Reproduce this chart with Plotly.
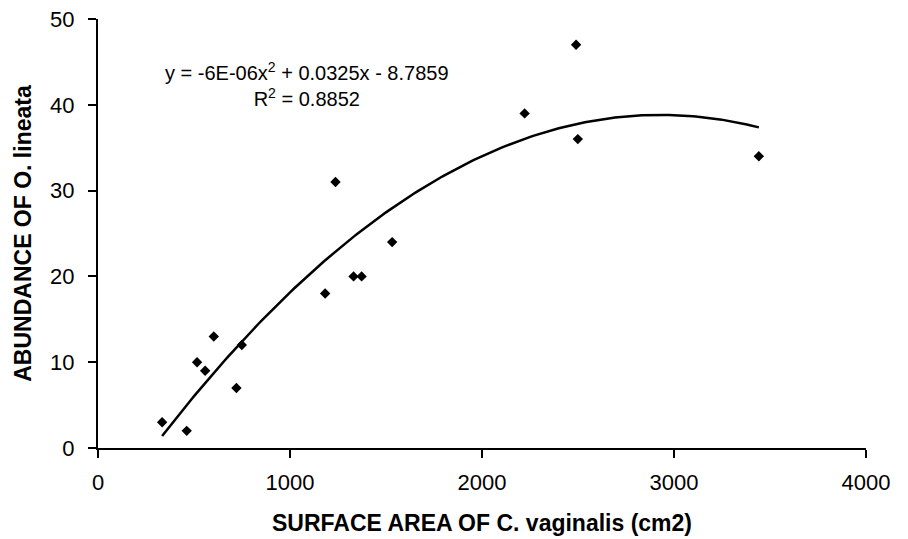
import numpy as np
import plotly.graph_objects as go

surface_area = [334, 462, 516, 558, 603, 721, 749, 1183, 1237, 1331, 1373, 1532, 2222, 2490, 2499, 3442]
abundance = [3, 2, 10, 9, 13, 7, 12, 18, 31, 20, 20, 24, 39, 47, 36, 34]

x_ticks = [0, 1000, 2000, 3000, 4000]
y_ticks = [0, 10, 20, 30, 40, 50]

coef = np.polyfit(surface_area, abundance, 2)
xs = np.linspace(min(surface_area), max(surface_area), 200)
ys = np.polyval(coef, xs)

fig = go.Figure()
fig.add_trace(go.Scatter(x=xs, y=ys, mode="lines",
                         line=dict(color="black", width=2.5), showlegend=False, hoverinfo="skip"))
fig.add_trace(go.Scatter(x=surface_area, y=abundance, mode="markers",
                         marker=dict(symbol="diamond", size=8, color="black"), showlegend=False))

fig.add_annotation(x=1088, y=42.4, xref="x", yref="y", showarrow=False, align="center",
                   text="y = -6E-06x<sup>2</sup> + 0.0325x - 8.7859<br>R<sup>2</sup> = 0.8852",
                   font=dict(family="Liberation Sans, Arial", size=20, color="black"))

axis_common = dict(showgrid=False, zeroline=False, showline=True, linecolor="black", linewidth=2,
                   ticks="outside", ticklen=8, tickwidth=2, tickcolor="black", automargin=False,
                   tickfont=dict(family="Liberation Sans, Arial", size=22, color="black"))

fig.update_xaxes(range=[0, 4000], tickvals=x_ticks, ticklabelstandoff=6,
                 title=dict(text="<b>SURFACE AREA OF C. vaginalis (cm2)</b>", standoff=20,
                            font=dict(family="Liberation Sans, Arial", size=23, color="black")),
                 **axis_common)
fig.update_yaxes(range=[0, 50], tickvals=y_ticks, ticklabelstandoff=9,
                 title=dict(text="<b>ABUNDANCE OF O. lineata</b>", standoff=12,
                            font=dict(family="Liberation Sans, Arial", size=23, color="black")),
                 **axis_common)

fig.update_layout(width=908, height=539, margin=dict(l=98, r=42, t=19, b=91, autoexpand=False),
                  plot_bgcolor="white", paper_bgcolor="white")

fig.write_html("out.html")
